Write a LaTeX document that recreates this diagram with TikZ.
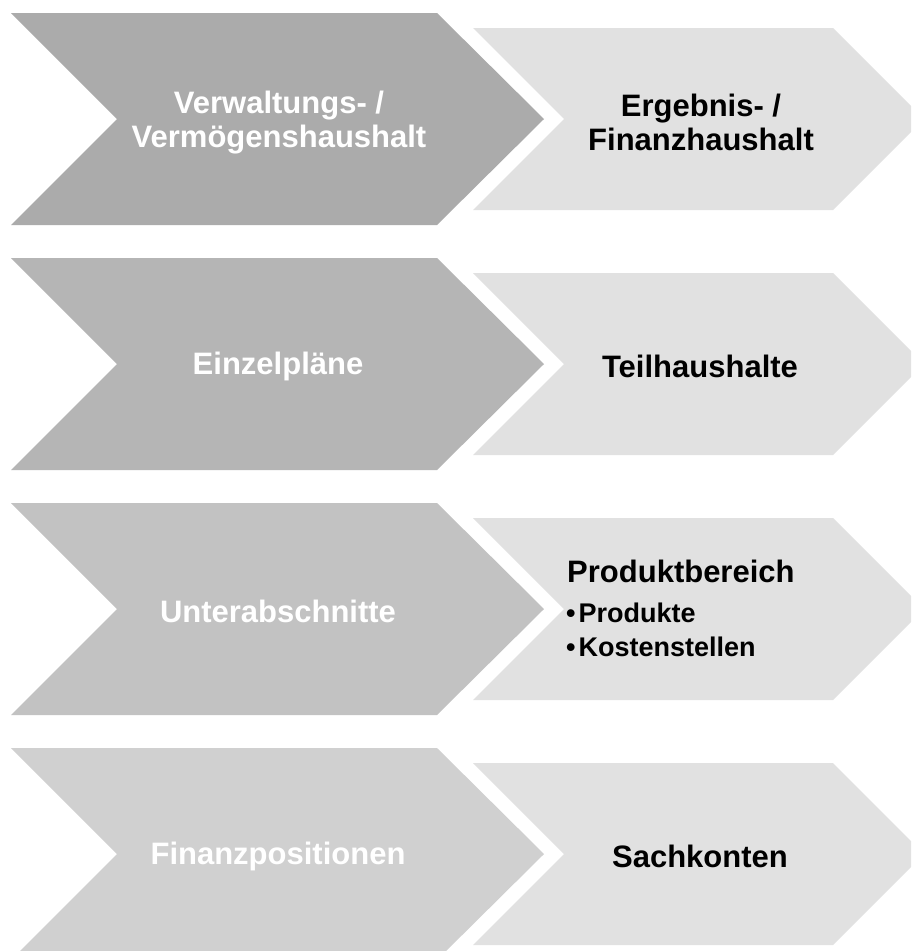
\documentclass[tikz,border=0pt]{standalone}
\usepackage{fontspec}
\setmainfont{Liberation Sans}
\definecolor{dA}{HTML}{ABABAB}
\definecolor{dB}{HTML}{B5B5B5}
\definecolor{dC}{HTML}{C2C2C2}
\definecolor{dD}{HTML}{D0D0D0}
\definecolor{lt}{HTML}{E1E1E1}
\tikzset{
  lefttxt/.style={text=white, font=\bfseries\fontsize{31}{34}\selectfont, align=center, inner sep=0pt},
  righttxt/.style={text=black, font=\bfseries\fontsize{31}{34}\selectfont, align=center, inner sep=0pt},
  bullettxt/.style={text=black, font=\bfseries\fontsize{27}{31}\selectfont, inner sep=0pt, anchor=base west},
}
\begin{document}
\begin{tikzpicture}[x=1pt,y=-1pt]
\useasboundingbox (0,0) rectangle (911,951);
\clip (0,0) rectangle (911,951);
\fill[white] (0,0) rectangle (911,951);
% chevrons
\foreach \c/\col in {119/dA,364/dB,609/dC,854/dD}{
  \fill[\col] (11,\c-106) -- (437,\c-106) -- (544,\c) -- (437,\c+106) -- (11,\c+106) -- (117,\c) -- cycle;
  \fill[lt] (473,\c-91) -- (833,\c-91) -- (924,\c) -- (833,\c+91) -- (473,\c+91) -- (564,\c) -- cycle;
}
% left texts
\node[lefttxt] (l1) at (279,123) {Verwaltungs- /\\Vermögenshaushalt};
\node[lefttxt] (l2) at (278,366) {Einzelpläne};
\node[lefttxt] (l3) at (278,611) {Unterabschnitte};
\node[lefttxt] (l4) at (278,856) {Finanzpositionen};
% right texts
\node[righttxt] (r1) at (701,122) {Ergebnis- /\\Finanzhaushalt};
\node[righttxt] (r2) at (700,366) {Teilhaushalte};
\node[righttxt, anchor=base west] (r3) at (567,582) {Produktbereich};
\node[bullettxt] (r3a) at (566,622) {\textbullet\hspace{3pt}Produkte};
\node[bullettxt] (r3b) at (566,656) {\textbullet\hspace{3pt}Kostenstellen};
\node[righttxt] (r4) at (700,856) {Sachkonten};
\end{tikzpicture}
\end{document}
